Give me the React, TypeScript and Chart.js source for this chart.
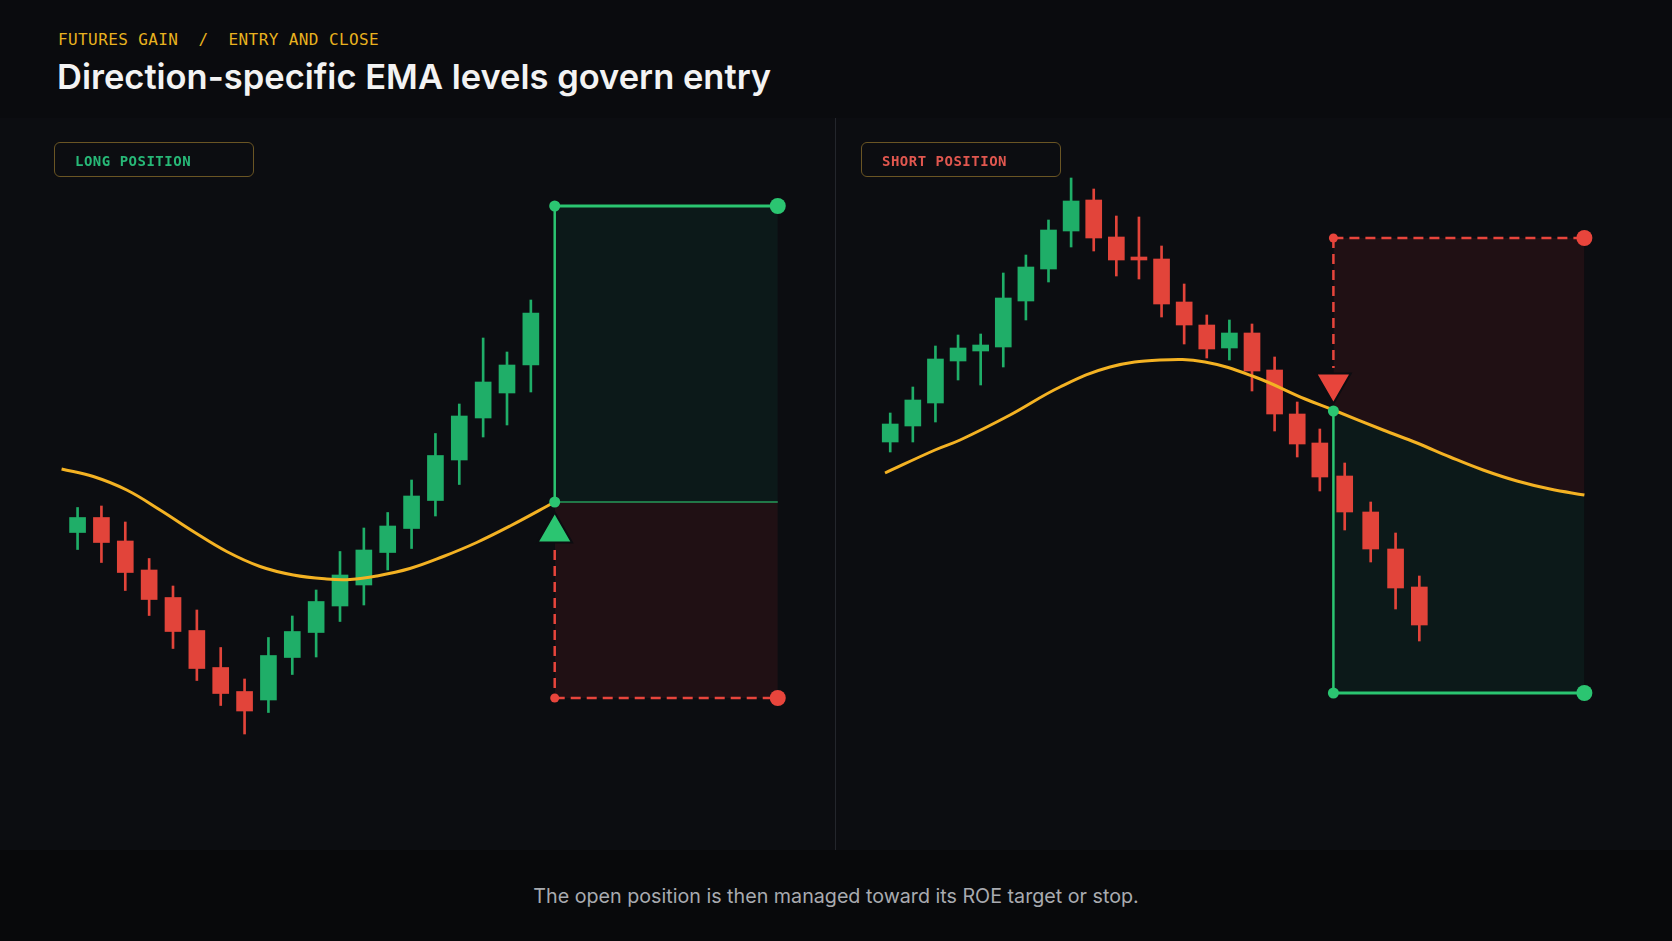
import { useEffect, useRef } from "react";
import { Chart, registerables } from "chart.js";

Chart.register(...registerables);

const BG = "#0c0d11";
const CANDLE_GREEN = "#1fae68";
const CANDLE_RED = "#e2443a";
const LINE_GREEN = "#2bc571";
const LINE_RED = "#e8453c";
const EMA_GOLD = "#f4b223";
const GREEN_ZONE = "rgba(20, 160, 110, 0.09)";
const RED_ZONE = "rgba(220, 50, 50, 0.1)";

// long position panel
const longTimes = [0, 1, 2, 3, 4, 5, 6, 7, 8, 9, 10, 11, 12, 13, 14, 15, 16, 17, 18, 19];
const longOpen = [63.5, 66.5, 61.8, 56.0, 50.5, 43.9, 36.5, 31.7, 30.0, 38.5, 43.5, 48.8, 53.0, 59.5, 64.3, 69.9, 78.0, 86.4, 91.4, 97.0];
const longClose = [66.5, 61.5, 55.5, 50.1, 43.7, 36.3, 31.3, 27.8, 38.9, 43.7, 49.7, 55.0, 60.0, 64.8, 70.8, 78.9, 86.8, 93.6, 97.0, 107.4];
const longHigh = [68.5, 68.8, 65.6, 58.3, 52.8, 48.0, 40.5, 34.2, 42.5, 46.8, 52.0, 59.7, 64.4, 67.5, 74.0, 83.3, 89.2, 102.4, 99.6, 110.0];
const longLow = [60.1, 57.5, 51.9, 46.9, 40.3, 33.9, 28.9, 23.2, 27.5, 35.1, 38.6, 45.7, 49.0, 56.0, 60.3, 66.8, 73.1, 82.6, 85.0, 91.6];
const longEmaTimes = [-0.67, 0.66, 2.06, 3.46, 4.85, 6.25, 7.65, 9.04, 10.44, 11.42, 12.54, 13.93, 15.33, 16.73, 18.13, 20.0];
const longEma = [76.2, 74.7, 72.0, 68.0, 63.7, 59.7, 56.7, 55.0, 54.2, 54.1, 54.8, 56.3, 58.7, 61.5, 64.8, 69.6];
const longEntryTime = 20;
const longEntryPrice = 69.6;
const longTarget = 128.8;
const longStop = 30.4;
const longStopLegTop = 60.0;
const longMarkerPrice = 63.5;
const longZoneEnd = 29.35;

// short position panel
const shortTimes = [0, 1, 2, 3, 4, 5, 6, 7, 8, 9, 10, 11, 12, 13, 14, 15, 16, 17, 18, 19, 20.1, 21.25, 22.35, 23.4];
const shortOpen = [81.6, 84.8, 89.4, 97.8, 99.8, 100.6, 109.8, 116.2, 123.8, 130.0, 122.6, 118.6, 118.2, 109.6, 105.0, 100.4, 103.4, 96.0, 87.2, 81.4, 74.8, 67.6, 60.2, 52.6];
const shortClose = [85.2, 90.0, 98.2, 100.4, 101.0, 110.4, 116.6, 124.0, 129.8, 122.4, 118.0, 118.0, 109.2, 105.0, 100.2, 103.4, 95.8, 87.2, 81.2, 74.6, 67.6, 60.2, 52.4, 45.0];
const shortHigh = [87.4, 92.6, 100.8, 103.0, 103.2, 115.4, 119.0, 126.0, 134.4, 132.2, 126.8, 126.6, 120.8, 113.2, 107.0, 106.0, 105.2, 98.6, 89.6, 84.2, 77.4, 69.6, 63.4, 54.8];
const shortLow = [79.6, 81.6, 85.6, 94.0, 93.0, 96.6, 106.0, 113.6, 120.6, 119.8, 114.8, 114.2, 106.6, 101.2, 98.4, 98.0, 91.8, 83.8, 78.6, 71.8, 64.0, 57.6, 48.2, 41.8];
const shortEmaTimes = [-0.23, 1.98, 3.09, 5.3, 7.51, 9.72, 11.93, 13.92, 16.13, 18.35, 19.6, 21.8, 23.3, 24.76, 26.22, 27.72, 29.18, 30.7];
const shortEma = [75.4, 80.0, 82.0, 87.0, 92.6, 96.6, 98.0, 97.6, 94.6, 90.2, 88.0, 84.0, 81.4, 78.6, 76.0, 73.8, 72.2, 71.0];
const shortEntryTime = 19.6;
const shortEntryPrice = 87.8;
const shortStop = 122.4;
const shortTarget = 31.4;
const shortStopLegBottom = 96.4;
const shortMarkerPrice = 93.3;
const shortZoneEnd = 30.7;

const PRICE_MIN = 0;
const PRICE_MAX = 146.4;

function candles(times: number[], open: number[], high: number[], low: number[], close: number[]) {
  const colors = close.map((c, i) => (c >= open[i] ? CANDLE_GREEN : CANDLE_RED));
  return [
    {
      type: "bar",
      data: times.map((t, i) => ({ x: t, y: [low[i], high[i]] })),
      backgroundColor: colors,
      barThickness: 2,
      grouped: false,
      order: 8,
    },
    {
      type: "bar",
      data: times.map((t, i) => ({ x: t, y: [Math.min(open[i], close[i]), Math.max(open[i], close[i])] })),
      backgroundColor: colors,
      barThickness: 16,
      grouped: false,
      order: 7,
    },
  ];
}

function emaLine(times: number[], values: number[]) {
  return {
    type: "line",
    data: times.map((t, i) => ({ x: t, y: values[i] })),
    borderColor: EMA_GOLD,
    borderWidth: 3,
    pointRadius: 0,
    tension: 0.4,
    fill: false,
    order: 6,
  };
}

function segment(x1: number, y1: number, x2: number, y2: number, color: string, width: number, dashed: boolean) {
  return {
    type: "line",
    data: [
      { x: x1, y: y1 },
      { x: x2, y: y2 },
    ],
    borderColor: color,
    borderWidth: width,
    borderDash: dashed ? [10, 6] : [],
    pointRadius: 0,
    fill: false,
    order: 5,
  };
}

function dot(x: number, y: number, color: string, radius: number, style = "circle", rotation = 0) {
  return {
    type: "line",
    data: [{ x, y }],
    showLine: false,
    pointStyle: style,
    pointRadius: radius,
    pointRotation: rotation,
    pointBackgroundColor: color,
    pointBorderColor: BG,
    pointBorderWidth: style === "circle" ? 0 : 2,
    order: 1,
  };
}

function longDatasets() {
  return [
    // 0: entry level, the split between the two zones
    {
      type: "line",
      data: [
        { x: longEntryTime, y: longEntryPrice },
        { x: longZoneEnd, y: longEntryPrice },
      ],
      borderColor: "rgba(43, 197, 113, 0.75)",
      borderWidth: 1.5,
      pointRadius: 0,
      fill: false,
      order: 9,
    },
    // 1: take profit
    {
      type: "line",
      data: [
        { x: longEntryTime, y: longTarget },
        { x: longZoneEnd, y: longTarget },
      ],
      borderColor: LINE_GREEN,
      borderWidth: 3,
      backgroundColor: GREEN_ZONE,
      fill: 0,
      pointRadius: [5.5, 8],
      pointBackgroundColor: LINE_GREEN,
      pointBorderWidth: 0,
      order: 10,
    },
    // 2: stop loss
    {
      type: "line",
      data: [
        { x: longEntryTime, y: longStop },
        { x: longZoneEnd, y: longStop },
      ],
      borderColor: LINE_RED,
      borderWidth: 2.5,
      borderDash: [10, 6],
      backgroundColor: RED_ZONE,
      fill: 0,
      pointRadius: [4.5, 8],
      pointBackgroundColor: LINE_RED,
      pointBorderWidth: 0,
      order: 10,
    },
    ...candles(longTimes, longOpen, longHigh, longLow, longClose),
    emaLine(longEmaTimes, longEma),
    segment(longEntryTime, longTarget, longEntryTime, longEntryPrice, LINE_GREEN, 2.5, false),
    segment(longEntryTime, longStopLegTop, longEntryTime, longStop, LINE_RED, 2.5, true),
    dot(longEntryTime, longEntryPrice, LINE_GREEN, 5.5),
    dot(longEntryTime, longMarkerPrice, LINE_GREEN, 20, "triangle", 0),
  ];
}

function shortDatasets() {
  return [
    // 0: ema, also the split between the two zones
    emaLine(shortEmaTimes, shortEma),
    // 1: stop loss
    {
      type: "line",
      data: [
        { x: shortEntryTime, y: shortStop },
        { x: shortZoneEnd, y: shortStop },
      ],
      borderColor: LINE_RED,
      borderWidth: 2.5,
      borderDash: [10, 6],
      backgroundColor: RED_ZONE,
      fill: 0,
      pointRadius: [4.5, 8],
      pointBackgroundColor: LINE_RED,
      pointBorderWidth: 0,
      order: 10,
    },
    // 2: take profit
    {
      type: "line",
      data: [
        { x: shortEntryTime, y: shortTarget },
        { x: shortZoneEnd, y: shortTarget },
      ],
      borderColor: LINE_GREEN,
      borderWidth: 3,
      backgroundColor: GREEN_ZONE,
      fill: 0,
      pointRadius: [5.5, 8],
      pointBackgroundColor: LINE_GREEN,
      pointBorderWidth: 0,
      order: 10,
    },
    ...candles(shortTimes, shortOpen, shortHigh, shortLow, shortClose),
    segment(shortEntryTime, shortStop, shortEntryTime, shortStopLegBottom, LINE_RED, 2.5, true),
    segment(shortEntryTime, shortEntryPrice, shortEntryTime, shortTarget, LINE_GREEN, 2.5, false),
    dot(shortEntryTime, shortEntryPrice, LINE_GREEN, 5.5),
    dot(shortEntryTime, shortMarkerPrice, LINE_RED, 20, "triangle", 180),
  ];
}

type PanelProps = {
  build: () => any[];
  xMin: number;
  xMax: number;
  left: number;
  width: number;
};

function PanelChart({ build, xMin, xMax, left, width }: PanelProps) {
  const canvasRef = useRef<HTMLCanvasElement | null>(null);

  useEffect(() => {
    const canvas = canvasRef.current;
    if (!canvas) return;
    const chart = new Chart(canvas, {
      type: "bar",
      data: { datasets: build() as any },
      options: {
        animation: false,
        responsive: true,
        maintainAspectRatio: false,
        events: [],
        layout: { padding: 0, autoPadding: false },
        plugins: {
          legend: { display: false },
          tooltip: { enabled: false },
        },
        scales: {
          x: { type: "linear", min: xMin, max: xMax, display: false, offset: false },
          y: { type: "linear", min: PRICE_MIN, max: PRICE_MAX, display: false },
        },
      },
    });
    return () => chart.destroy();
  }, [build, xMin, xMax]);

  return (
    <div style={{ position: "absolute", left, top: 118, width, height: 732 }}>
      <canvas ref={canvasRef} />
    </div>
  );
}

const mono = "'DejaVu Sans Mono', 'Liberation Mono', monospace";
const sans = "Inter, 'Noto Sans', sans-serif";

function Badge({ left, text, color }: { left: number; text: string; color: string }) {
  return (
    <div
      style={{
        position: "absolute",
        left,
        top: 142,
        width: 200,
        height: 35,
        boxSizing: "border-box",
        border: "1px solid #6a5524",
        borderRadius: 6,
        paddingLeft: 20,
        fontFamily: mono,
        fontWeight: 700,
        fontSize: 14,
        letterSpacing: 0.5,
        lineHeight: "36px",
        color,
      }}
    >
      {text}
    </div>
  );
}

export default function App() {
  return (
    <div
      style={{
        position: "fixed",
        left: 0,
        top: 0,
        width: 1672,
        height: 941,
        background: "#0a0b0e",
        overflow: "hidden",
      }}
    >
      <div style={{ position: "absolute", left: 0, top: 118, width: 1672, height: 732, background: BG }} />
      <div style={{ position: "absolute", left: 0, top: 850, width: 1672, height: 91, background: "#08090b" }} />
      <div
        style={{
          position: "absolute",
          left: 58,
          top: 32,
          fontFamily: mono,
          fontSize: 16,
          lineHeight: "16px",
          letterSpacing: 0.4,
          color: "#e8b21f",
          whiteSpace: "pre",
        }}
      >
        {"FUTURES GAIN  /  ENTRY AND CLOSE"}
      </div>
      <div
        style={{
          position: "absolute",
          left: 57,
          top: 60,
          fontFamily: sans,
          fontSize: 34.5,
          fontWeight: 600,
          lineHeight: "34px",
          letterSpacing: 0,
          color: "#f3f3f3",
          whiteSpace: "nowrap",
        }}
      >
        Direction-specific EMA levels govern entry
      </div>
      <div style={{ position: "absolute", left: 835, top: 118, width: 1, height: 732, background: "#24262c" }} />
      <PanelChart build={longDatasets} xMin={-3} xMax={32} left={6} width={835} />
      <PanelChart build={shortDatasets} xMin={-2} xMax={34} left={845} width={814} />
      <Badge left={54} text="LONG POSITION" color="#27b877" />
      <Badge left={861} text="SHORT POSITION" color="#e0574f" />
      <div
        style={{
          position: "absolute",
          left: 0,
          top: 886,
          width: 1672,
          textAlign: "center",
          fontFamily: sans,
          fontSize: 19.7,
          lineHeight: "20px",
          color: "#a9abb0",
        }}
      >
        The open position is then managed toward its ROE target or stop.
      </div>
    </div>
  );
}
